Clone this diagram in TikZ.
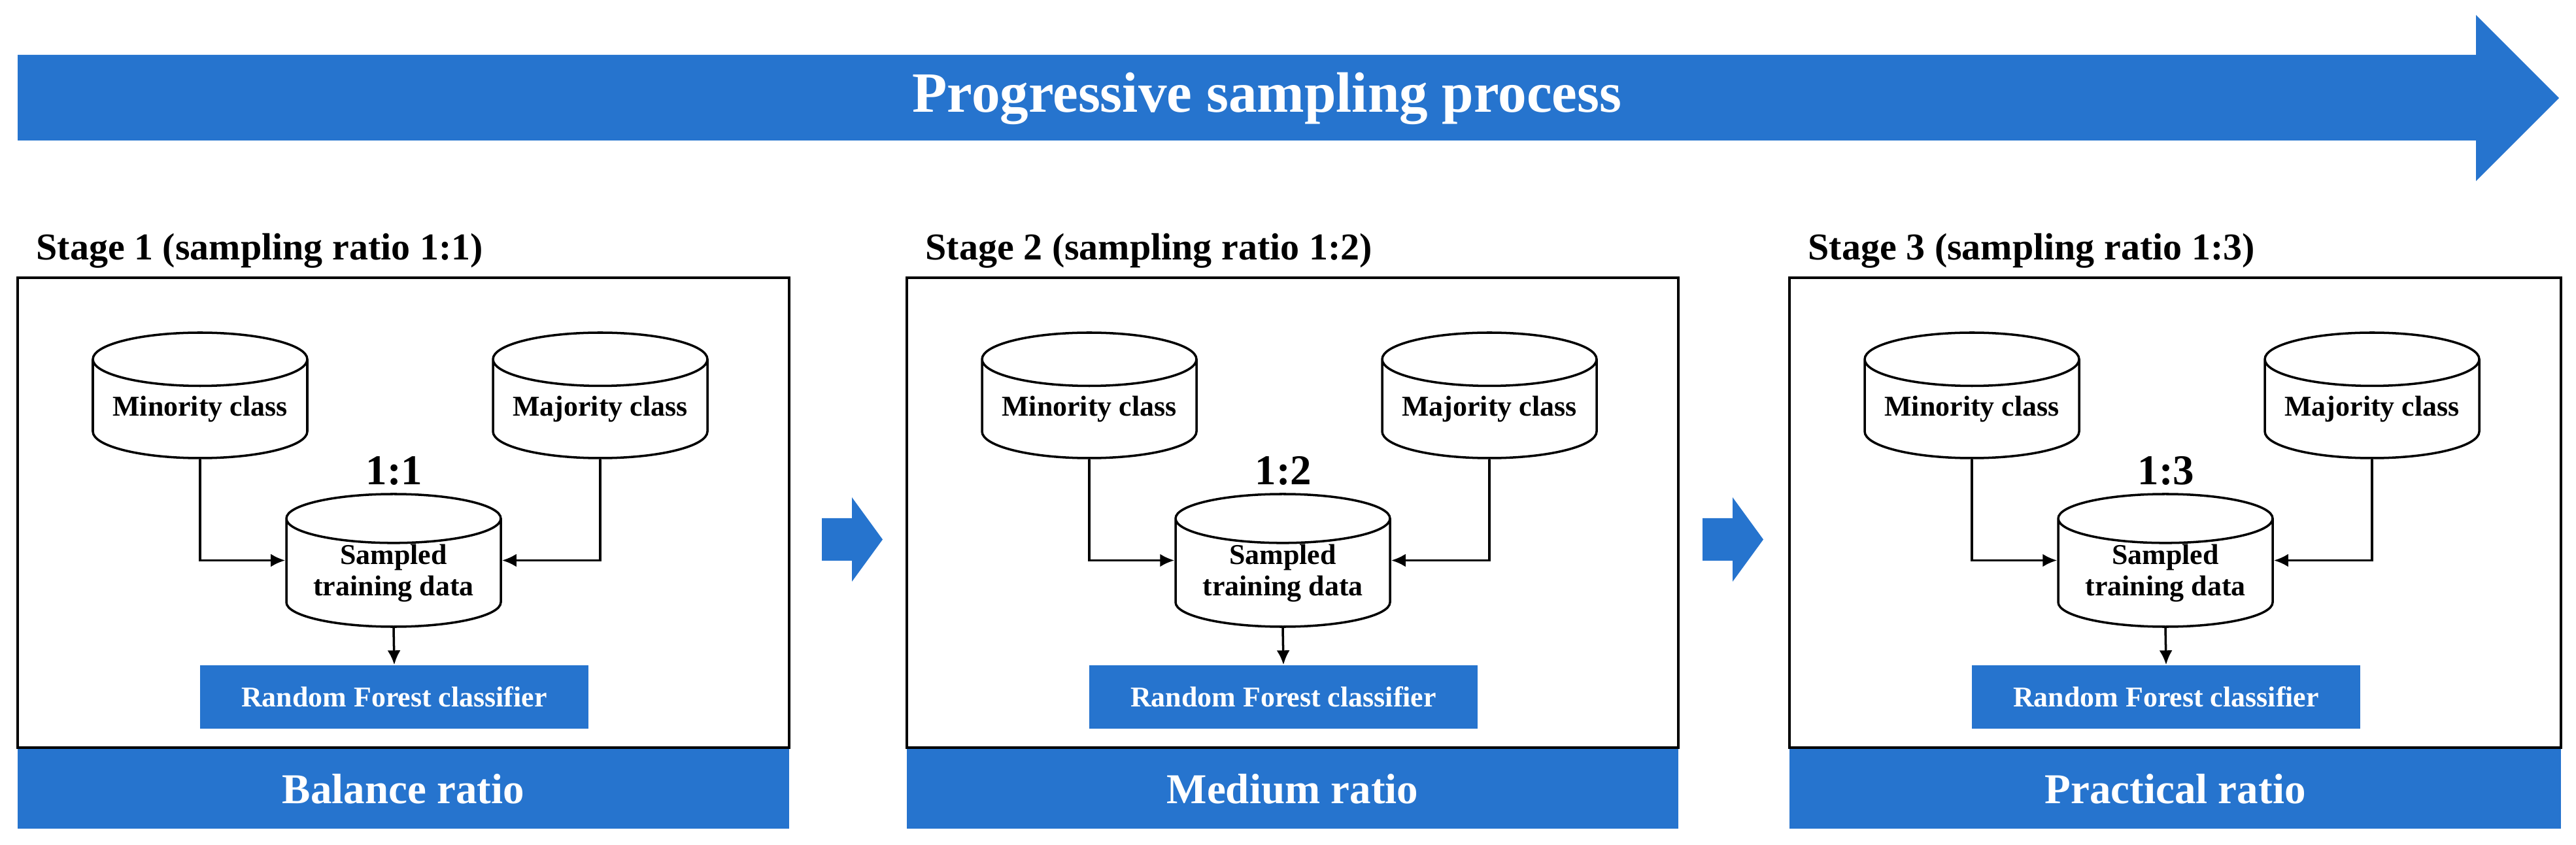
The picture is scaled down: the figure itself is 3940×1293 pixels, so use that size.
\documentclass[tikz,border=0pt]{standalone}
\usepackage{fontspec}
\setmainfont{Liberation Serif}
\usepackage{tikz}
\usetikzlibrary{shapes, arrows.meta, positioning}
\definecolor{pblue}{RGB}{38,116,206}
\tikzstyle{stagebox} = [draw, line width=1.2pt, minimum width=118mm, minimum height=71.9mm, inner sep=0pt]
\tikzstyle{ratiobar} = [fill=pblue, text=white, minimum width=118mm, minimum height=12.2mm, inner sep=0pt, font=\fontsize{18.5pt}{20pt}\selectfont\bfseries]
\tikzstyle{stagelabel} = [anchor=base west, inner sep=0pt, font=\fontsize{16.5pt}{18pt}\selectfont\bfseries]
\tikzstyle{cyl} = [cylinder, shape border rotate=90, draw, line width=1pt, aspect=0.305, minimum width=32.8mm, minimum height=19.2mm, inner sep=0pt, anchor=shape center, align=center, font=\fontsize{12.5pt}{13.9pt}\selectfont\bfseries]
\tikzstyle{rfbox} = [fill=pblue, text=white, minimum width=59.4mm, minimum height=9.7mm, inner sep=0pt, font=\fontsize{12.5pt}{14pt}\selectfont\bfseries]
\tikzstyle{ratiolabel} = [anchor=base, inner sep=0pt, font=\fontsize{18.5pt}{20pt}\selectfont\bfseries]
\tikzstyle{line} = [draw, line width=1pt, -{Latex[length=2.2mm, width=2mm]}]
\tikzstyle{bigarrow} = [fill=pblue]

\begin{document}
\begin{tikzpicture}[x=0.1mm, y=-0.1mm]
	\useasboundingbox (0,0) rectangle (3940,1293);

	% top arrow
	\path [bigarrow] (27,84) -- (3787,84) -- (3787,23) -- (3914,150) -- (3787,277) -- (3787,215) -- (27,215) -- cycle;
	\node [text=white, inner sep=0pt, font=\fontsize{24.8pt}{26pt}\selectfont\bfseries] (title) at (1938,151) {Progressive sampling process};

	% stage 1
	\node [stagelabel] (s1) at (55,398) {Stage 1 (sampling ratio 1:1)};
	\node [stagebox] (box1) at (617,784.5) {};
	\node [ratiobar] (bar1) at (617,1207) {Balance ratio};
	\node [cyl] (min1) at (306,605) {Minority class};
	\node [cyl] (maj1) at (918,605) {Majority class};
	\node [cyl] (samp1) at (602,857.5) {Sampled\\training data};
	\node [ratiolabel] (r1) at (603,742) {1:1};
	\node [rfbox] (rf1) at (603,1066.5) {Random Forest classifier};

	\path [line] (min1.south) |- (samp1.shape center -| samp1.west);
	\path [line] (maj1.south) |- (samp1.shape center -| samp1.east);
	\path [line] (samp1.south) -- (rf1.north);

	% stage 2
	\node [stagelabel] (s2) at (1415,398) {Stage 2 (sampling ratio 1:2)};
	\node [stagebox] (box2) at (1977,784.5) {};
	\node [ratiobar] (bar2) at (1977,1207) {Medium ratio};
	\node [cyl] (min2) at (1666,605) {Minority class};
	\node [cyl] (maj2) at (2278,605) {Majority class};
	\node [cyl] (samp2) at (1962,857.5) {Sampled\\training data};
	\node [ratiolabel] (r2) at (1963,742) {1:2};
	\node [rfbox] (rf2) at (1963,1066.5) {Random Forest classifier};

	\path [line] (min2.south) |- (samp2.shape center -| samp2.west);
	\path [line] (maj2.south) |- (samp2.shape center -| samp2.east);
	\path [line] (samp2.south) -- (rf2.north);

	% stage 3
	\node [stagelabel] (s3) at (2765,398) {Stage 3 (sampling ratio 1:3)};
	\node [stagebox] (box3) at (3327,784.5) {};
	\node [ratiobar] (bar3) at (3327,1207) {Practical ratio};
	\node [cyl] (min3) at (3016,605) {Minority class};
	\node [cyl] (maj3) at (3628,605) {Majority class};
	\node [cyl] (samp3) at (3312,857.5) {Sampled\\training data};
	\node [ratiolabel] (r3) at (3313,742) {1:3};
	\node [rfbox] (rf3) at (3313,1066.5) {Random Forest classifier};

	\path [line] (min3.south) |- (samp3.shape center -| samp3.west);
	\path [line] (maj3.south) |- (samp3.shape center -| samp3.east);
	\path [line] (samp3.south) -- (rf3.north);

	% arrows between stages
	\path [bigarrow] (1257,793) -- (1303,793) -- (1303,761) -- (1350,825.5) -- (1303,890) -- (1303,858) -- (1257,858) -- cycle;
	\path [bigarrow] (2604,793) -- (2650,793) -- (2650,761) -- (2697,825.5) -- (2650,890) -- (2650,858) -- (2604,858) -- cycle;
\end{tikzpicture}
\end{document}
